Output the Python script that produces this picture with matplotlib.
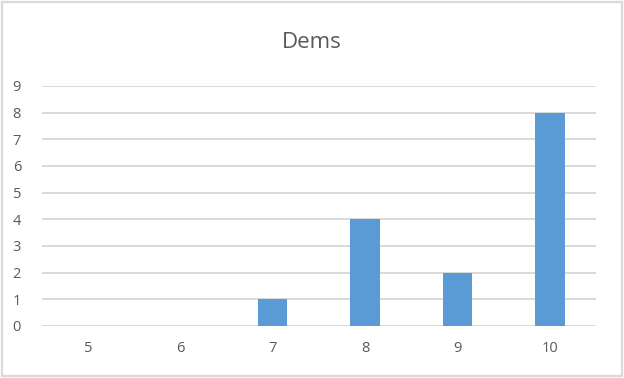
import matplotlib
matplotlib.use("Agg")
import matplotlib.pyplot as plt
from matplotlib.patches import Rectangle

categories = ["5", "6", "7", "8", "9", "10"]
counts = [0, 0, 1, 4, 2, 8]
title = "Dems"

plt.rcParams["font.family"] = ["Open Sans", "DejaVu Sans"]

fig = plt.figure(figsize=(6.24, 3.78), dpi=100)
ax = fig.add_axes([0.067, 0.1376, 0.888, 0.635])

x = range(len(categories))
ax.bar(x, counts, width=0.32, color="#5b9bd5", zorder=3)

ax.set_xlim(-0.5, len(categories) - 0.5)
ax.set_ylim(0, 9)
ax.set_yticks(range(10))
ax.set_xticks(list(x))
ax.set_xticklabels(categories)
ax.grid(axis="y", color="#d9d9d9", linewidth=1.4, zorder=0)
for s in ax.spines.values():
    s.set_visible(False)
ax.tick_params(length=0, labelsize=10.5, colors="#595959")
ax.tick_params(axis="x", pad=11)
ax.tick_params(axis="y", pad=21)
for lbl in ax.get_yticklabels():
    lbl.set_horizontalalignment("left")

fig.text(0.5, 0.888, title, ha="center", va="center", fontsize=16, color="#595959")

# outer chart border
fig.patches.append(Rectangle((0.003, 0.004), 0.994, 0.992, transform=fig.transFigure,
                             fill=False, edgecolor="#d9d9d9", linewidth=1.6))

fig.savefig("out.png", dpi=100)
